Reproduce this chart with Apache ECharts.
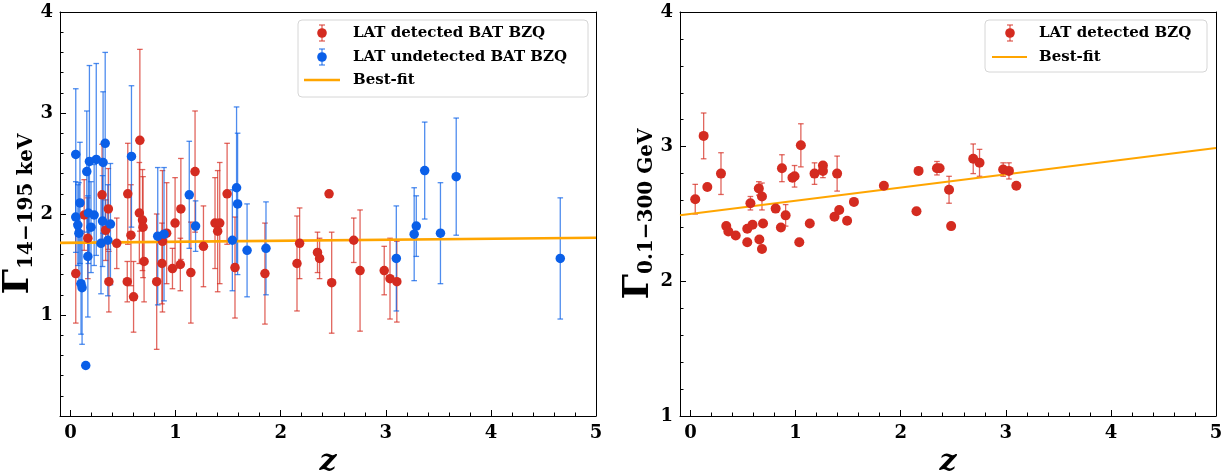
<!DOCTYPE html>
<html>
<head>
<meta charset="utf-8">
<script src="https://cdn.jsdelivr.net/npm/echarts@6/dist/echarts.min.js"></script>
<style>html,body{margin:0;padding:0;background:#fff;}#c{width:1225px;height:474px;}</style>
</head>
<body>
<div id="c"></div>
<script>
// ---- Left panel: BAT photon index vs redshift ----
const detZ = [0.05,0.13,0.165,0.30,0.36,0.335,0.365,0.44,0.545,0.575,0.54,0.60,0.66,0.655,0.685,0.69,0.70,0.82,0.87,0.875,0.915,0.97,0.995,1.045,1.05,1.145,1.185,1.265,1.375,1.42,1.40,1.49,1.565,1.85,2.155,2.18,2.35,2.37,2.46,2.485,2.695,2.755,2.985,3.04,3.105];
const detG = [1.41,1.99,1.76,2.19,2.05,1.84,1.33,1.71,2.20,1.79,1.33,1.18,2.73,2.01,1.94,1.87,1.53,1.33,1.51,1.73,1.81,1.46,1.91,1.50,2.05,1.42,2.42,1.68,1.91,1.91,1.83,2.20,1.47,1.41,1.51,1.71,1.62,1.56,2.20,1.32,1.74,1.44,1.44,1.36,1.33];
const detErr = [0.49,0.35,0.4,0.5,0.4,0.3,0.3,0.25,0.5,0.5,0.2,0.35,0.9,0.5,0.5,0.5,0.4,0.67,0.4,0.7,0.5,0.2,0.45,0.26,0.5,0.5,0.6,0.4,0.45,0.6,0.6,0.5,0.5,0.5,0.47,0.35,0.2,0.2,0,0.5,0.22,0.6,0.24,0.4,0.4];

const undZ = [0.05,0.05,0.09,0.07,0.08,0.10,0.11,0.145,0.155,0.17,0.165,0.18,0.195,0.225,0.245,0.31,0.33,0.305,0.29,0.355,0.38,0.58,0.83,0.89,1.13,1.19,1.54,1.58,1.59,1.68,1.86,3.10,3.27,3.29,3.37,3.52,3.67,4.66];
const undG = [2.59,1.97,2.11,1.89,1.81,1.31,1.27,0.50,2.42,2.01,1.58,2.52,1.87,1.99,2.54,2.51,2.70,1.93,1.71,1.74,1.90,2.57,1.78,1.80,2.19,1.88,1.74,2.26,2.10,1.64,1.66,1.56,1.80,1.88,2.43,1.81,2.37,1.56];
const undErr = [0.65,0.35,0.6,0.4,0.5,0.5,0.56,0,0.6,0.5,0.6,0.95,0.45,0.5,0.95,0.7,0.9,0.45,0.5,0.55,0.6,0.7,0.68,0.66,0.53,0.25,0.5,0.8,0.7,0.46,0.46,0.52,0.46,0.3,0.48,0.5,0.58,0.6];

const fitLeftZ = [-0.1, 5];
const fitLeftG = [1.714, 1.765];

// ---- Right panel: LAT photon index vs redshift ----
const latZ = [0.045,0.125,0.16,0.29,0.34,0.36,0.43,0.54,0.54,0.57,0.59,0.65,0.68,0.655,0.68,0.69,0.81,0.87,0.86,0.905,0.97,0.99,1.05,1.035,1.135,1.18,1.26,1.26,1.395,1.37,1.415,1.49,1.555,1.84,2.15,2.17,2.345,2.37,2.46,2.48,2.69,2.75,2.975,3.03,3.10];
const latG = [2.61,3.08,2.70,2.80,2.41,2.37,2.34,2.29,2.39,2.58,2.42,2.69,2.63,2.31,2.24,2.43,2.54,2.84,2.40,2.49,2.77,2.78,3.01,2.29,2.43,2.80,2.86,2.82,2.80,2.48,2.53,2.45,2.59,2.71,2.52,2.82,2.84,2.84,2.68,2.41,2.91,2.88,2.83,2.82,2.71];
const latErr = [0.11,0.17,0,0.155,0,0,0,0,0,0.05,0,0.05,0.1,0,0,0,0,0.1,0,0.08,0,0.08,0.16,0,0,0.08,0,0.05,0.13,0,0,0,0,0,0,0,0.05,0,0.1,0,0.11,0.1,0.05,0.06,0];

const fitRightZ = [-0.1, 5];
const fitRightG = [2.490, 2.990];

// tick values
const xMajor = [0,1,2,3,4,5];
const xMinor = [0.2,0.4,0.6,0.8,1.2,1.4,1.6,1.8,2.2,2.4,2.6,2.8,3.2,3.4,3.6,3.8,4.2,4.4,4.6,4.8];
const yLeftMajor = [0,1,2,3,4];
const yLeftLabels = [1,2,3,4];
const yLeftMinor = [0.2,0.4,0.6,0.8,1.2,1.4,1.6,1.8,2.2,2.4,2.6,2.8,3.2,3.4,3.6,3.8];
const yRightMajor = [1,2,3,4];
const yRightMinor = [1.2,1.4,1.6,1.8,2.2,2.4,2.6,2.8,3.2,3.4,3.6,3.8];

const RED = '#d42b20', RED_BAR = 'rgba(214,43,32,0.72)';
const BLUE = '#0a5fe8', BLUE_BAR = 'rgba(10,95,232,0.72)';
const ORANGE = '#ffa500';
const SERIF = '"DejaVu Serif", "Liberation Serif", serif';

const zip3 = (a,b,c) => a.map((v,i)=>[v,b[i],c[i]]);
const zip2 = (a,b) => a.map((v,i)=>[v,b[i]]);

function errRender(color){
  return function(params, api){
    const x = api.value(0), y = api.value(1), e = api.value(2);
    if (!e) return null;
    const lo = api.coord([x, y - e]), hi = api.coord([x, y + e]);
    const w = 2.8;
    const style = {stroke: color, lineWidth: 1.3, fill: null};
    return {type:'group', children:[
      {type:'line', shape:{x1:lo[0],y1:lo[1],x2:hi[0],y2:hi[1]}, style},
      {type:'line', shape:{x1:lo[0]-w,y1:lo[1],x2:lo[0]+w,y2:lo[1]}, style},
      {type:'line', shape:{x1:hi[0]-w,y1:hi[1],x2:hi[0]+w,y2:hi[1]}, style}
    ]};
  };
}

const labelStyle = {color:'#000', fontFamily: SERIF, fontWeight:'bold', fontSize:18};
const BLACK = {color:'#000', width:1};

function mainX(grid){
  return {
    type:'value', gridIndex:grid, min:-0.1, max:5, position:'bottom',
    name:'z', nameLocation:'middle', nameGap:25,
    nameTextStyle:{fontFamily:SERIF, fontStyle:'italic', fontWeight:'bold', fontSize:30, color:'#000'},
    axisLine:{show:true, onZero:false, lineStyle:BLACK},
    axisTick:{show:false},
    axisLabel:Object.assign({show:true, margin:8, customValues:xMajor}, labelStyle),
    splitLine:{show:false}
  };
}
function tickX(grid, vals, len){
  return {
    type:'value', gridIndex:grid, min:-0.1, max:5, position:'bottom',
    axisLine:{show:false, onZero:false},
    axisTick:{show:true, inside:true, length:len, customValues:vals, lineStyle:BLACK},
    axisLabel:{show:false}, splitLine:{show:false}
  };
}
function topX(grid){
  return {
    type:'value', gridIndex:grid, min:-0.1, max:5, position:'top',
    axisLine:{show:true, onZero:false, lineStyle:BLACK},
    axisTick:{show:false}, axisLabel:{show:false}, splitLine:{show:false}
  };
}
function mainY(grid, min, labels, name, nameGap){
  return {
    type:'value', gridIndex:grid, min:min, max:4, position:'left',
    name:name, nameLocation:'middle', nameGap:nameGap, nameRotate:90,
    nameTextStyle:{color:'#000', fontFamily:SERIF, fontWeight:'bold',
      rich:{
        g:{fontSize:36, fontFamily:SERIF, fontWeight:'bold', color:'#000', lineHeight:42, verticalAlign:'bottom'},
        s:{fontSize:20, fontFamily:SERIF, fontWeight:'bold', color:'#000', lineHeight:20, verticalAlign:'bottom'}
      }},
    axisLine:{show:true, onZero:false, lineStyle:BLACK},
    axisTick:{show:false},
    axisLabel:Object.assign({show:true, margin:7, customValues:labels}, labelStyle),
    splitLine:{show:false}
  };
}
function tickY(grid, min, vals, len){
  return {
    type:'value', gridIndex:grid, min:min, max:4, position:'left',
    axisLine:{show:false, onZero:false},
    axisTick:{show:true, inside:true, length:len, customValues:vals, lineStyle:BLACK},
    axisLabel:{show:false}, splitLine:{show:false}
  };
}
function rightY(grid, min){
  return {
    type:'value', gridIndex:grid, min:min, max:4, position:'right',
    axisLine:{show:true, onZero:false, lineStyle:BLACK},
    axisTick:{show:false}, axisLabel:{show:false}, splitLine:{show:false}
  };
}

const option = {
  animation:false,
  backgroundColor:'#fff',
  grid:[
    {left:60, top:12, width:536, height:404, outerBoundsMode:'none', containLabel:false},
    {left:680, top:12, width:536, height:404, outerBoundsMode:'none', containLabel:false}
  ],
  xAxis:[ mainX(0), mainX(1),
          tickX(0, xMajor, 6), tickX(0, xMinor, 3.5), tickX(1, xMajor, 6), tickX(1, xMinor, 3.5),
          topX(0), topX(1) ],
  yAxis:[
    mainY(0, 0, yLeftLabels, '{g|Γ}{s|14−195 keV}', 20),
    mainY(1, 1, yRightMajor, '{g|Γ}{s|0.1−300 GeV}', 17),
    tickY(0, 0, yLeftMajor, 6), tickY(0, 0, yLeftMinor, 3.5),
    tickY(1, 1, yRightMajor, 6), tickY(1, 1, yRightMinor, 3.5),
    rightY(0, 0), rightY(1, 1)
  ],
  series:[
    {name:'LAT detected BAT BZQ err', type:'custom', xAxisIndex:0, yAxisIndex:0, renderItem:errRender(RED_BAR), data:zip3(detZ,detG,detErr), z:2, clip:true, silent:true},
    {name:'LAT undetected BAT BZQ err', type:'custom', xAxisIndex:0, yAxisIndex:0, renderItem:errRender(BLUE_BAR), data:zip3(undZ,undG,undErr), z:3, clip:true, silent:true},
    {name:'Best-fit', type:'line', xAxisIndex:0, yAxisIndex:0, data:zip2(fitLeftZ,fitLeftG), showSymbol:false, symbol:'none', lineStyle:{color:ORANGE, width:2.6}, z:4, silent:true},
    {name:'LAT detected BAT BZQ', type:'scatter', xAxisIndex:0, yAxisIndex:0, data:zip2(detZ,detG), symbol:'circle', symbolSize:9.5, itemStyle:{color:RED, opacity:1}, z:5, silent:true},
    {name:'LAT undetected BAT BZQ', type:'scatter', xAxisIndex:0, yAxisIndex:0, data:zip2(undZ,undG), symbol:'circle', symbolSize:9.5, itemStyle:{color:BLUE, opacity:1}, z:6, silent:true},

    {name:'LAT detected BZQ err', type:'custom', xAxisIndex:1, yAxisIndex:1, renderItem:errRender(RED_BAR), data:zip3(latZ,latG,latErr), z:2, clip:true, silent:true},
    {name:'Best-fit ', type:'line', xAxisIndex:1, yAxisIndex:1, data:zip2(fitRightZ,fitRightG), showSymbol:false, symbol:'none', lineStyle:{color:ORANGE, width:2}, z:4, silent:true},
    {name:'LAT detected BZQ', type:'scatter', xAxisIndex:1, yAxisIndex:1, data:zip2(latZ,latG), symbol:'circle', symbolSize:10, itemStyle:{color:RED, opacity:1}, z:5, silent:true}
  ],
  graphic:[]
};

// legends drawn as graphic groups
function marker(cx, cy, color, barColor){
  const st = {stroke:barColor, lineWidth:1.3};
  return [
    {type:'line', shape:{x1:cx,y1:cy-8,x2:cx,y2:cy+8}, style:st},
    {type:'line', shape:{x1:cx-3,y1:cy-8,x2:cx+3,y2:cy-8}, style:st},
    {type:'line', shape:{x1:cx-3,y1:cy+8,x2:cx+3,y2:cy+8}, style:st},
    {type:'circle', shape:{cx:cx, cy:cy, r:4.8}, style:{fill:color}}
  ];
}
function txt(x, y, s){
  return {type:'text', x:x, y:y, style:{text:s, fill:'#000', font:'bold 15px ' + SERIF, textVerticalAlign:'middle', textAlign:'left'}};
}
function legendBox(x, y, w, h){
  return {type:'rect', shape:{x:x, y:y, width:w, height:h, r:4}, style:{fill:'rgba(255,255,255,0.85)', stroke:'#d6d6d6', lineWidth:1}};
}
const leftLegend = [legendBox(298, 20, 290, 77)]
  .concat(marker(322, 33, RED, RED_BAR)).concat([txt(353, 33, 'LAT detected BAT BZQ')])
  .concat(marker(322, 57, BLUE, BLUE_BAR)).concat([txt(353, 57, 'LAT undetected BAT BZQ')])
  .concat([{type:'line', shape:{x1:304,y1:80,x2:340,y2:80}, style:{stroke:ORANGE, lineWidth:2.6}}, txt(353, 80, 'Best-fit')]);
const rightLegend = [legendBox(985, 20, 222, 52)]
  .concat(marker(1010, 33, RED, RED_BAR)).concat([txt(1039, 33, 'LAT detected BZQ')])
  .concat([{type:'line', shape:{x1:992,y1:57,x2:1027,y2:57}, style:{stroke:ORANGE, lineWidth:2}}, txt(1039, 57, 'Best-fit')]);
option.graphic = [{type:'group', z:100, children:leftLegend}, {type:'group', z:100, children:rightLegend}];

const chart = echarts.init(document.getElementById('c'), null, {renderer:'canvas'});
chart.setOption(option);
</script>
</body>
</html>
